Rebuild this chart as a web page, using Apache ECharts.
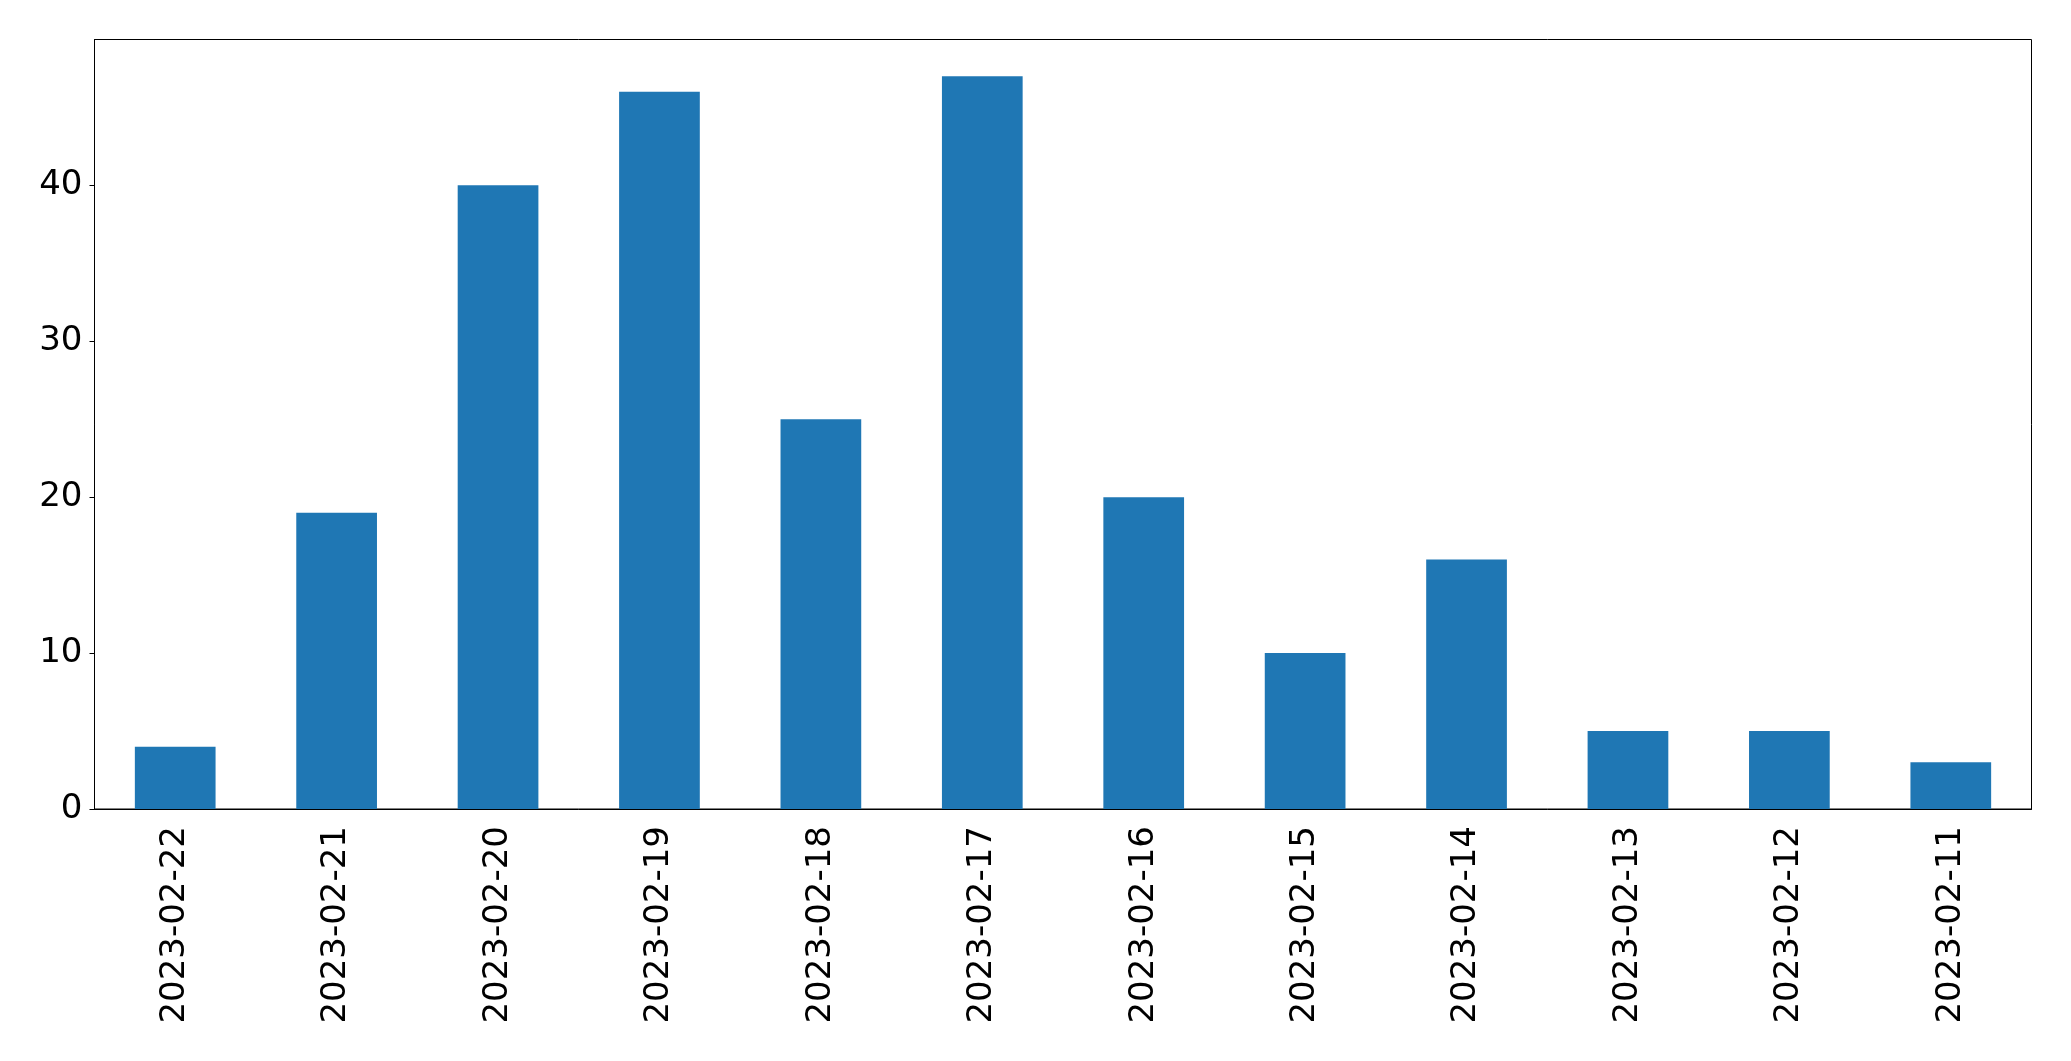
<!DOCTYPE html>
<html><head><meta charset="utf-8">
<script src="https://cdn.jsdelivr.net/npm/echarts@6/dist/echarts.min.js"></script>
<style>html,body{margin:0;padding:0;background:#fff}#c{width:2071px;height:1061px}</style>
</head><body><div id="c"></div>
<script>
const categories = ['2023-02-22','2023-02-21','2023-02-20','2023-02-19','2023-02-18','2023-02-17','2023-02-16','2023-02-15','2023-02-14','2023-02-13','2023-02-12','2023-02-11'];
const values = [4, 19, 40, 46, 25, 47, 20, 10, 16, 5, 5, 3];
const yTicks = [0, 10, 20, 30, 40];
const yMax = 49.35;

const chart = echarts.init(document.getElementById('c'), null, {renderer: 'canvas'});
const font = {fontFamily: 'DejaVu Sans', fontSize: 34, color: '#000'};
chart.setOption({
  animation: false,
  backgroundColor: '#fff',
  grid: {left: 94.5, right: 39.5, top: 39.5, bottom: 252, show: true, borderColor: '#000', borderWidth: 1, backgroundColor: 'transparent'},
  xAxis: {
    type: 'category', data: categories, boundaryGap: true,
    axisLine: {lineStyle: {color: '#000', width: 1}},
    axisTick: {alignWithLabel: true, length: 5, lineStyle: {color: '#000'}},
    axisLabel: Object.assign({rotate: 90, margin: 17, interval: 0}, font),
    splitLine: {show: false}
  },
  yAxis: {
    type: 'value', min: 0, max: yMax, interval: 10,
    axisLine: {show: true, lineStyle: {color: '#000', width: 1}},
    axisTick: {show: true, length: 5, lineStyle: {color: '#000'}},
    axisLabel: Object.assign({margin: 12, showMaxLabel: false, formatter: v => yTicks.includes(v) ? String(v) : ''}, font),
    splitLine: {show: false}
  },
  series: [{type: 'bar', data: values, barWidth: '50%', itemStyle: {color: '#1f77b4'}}]
});
</script></body></html>
